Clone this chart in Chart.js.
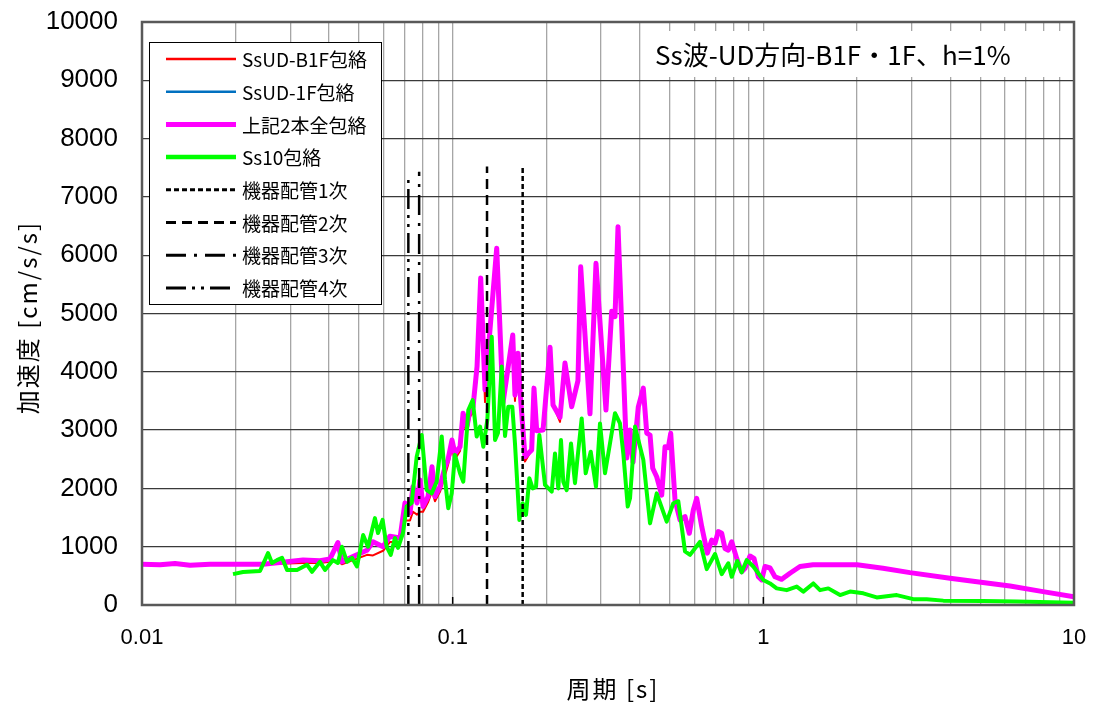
<!DOCTYPE html>
<html lang="ja">
<head>
<meta charset="utf-8">
<title>Ss波-UD方向-B1F・1F、h=1%</title>
<script src="https://cdn.jsdelivr.net/npm/chart.js@4.4.1/dist/chart.umd.min.js"></script>
<style>
  html, body { margin: 0; padding: 0; background: #fff; }
  #chart { display: block; }
</style>
</head>
<body>
<canvas id="chart" width="1096" height="707"></canvas>
<script>
// periods [s] and accelerations [cm/s/s]
const envPeriods = [
  0.01, 0.01143, 0.01277, 0.01427, 0.01655, 0.0199, 0.0245, 0.0293, 0.033, 0.0374,
  0.0403, 0.0427, 0.044, 0.0478, 0.053, 0.0554, 0.0597, 0.0628, 0.0677, 0.0702,
  0.0729, 0.0745, 0.0768, 0.0785, 0.0803, 0.0833, 0.0858, 0.0877, 0.091, 0.0945,
  0.0966, 0.0995, 0.1017, 0.1056, 0.108, 0.1112, 0.1137, 0.1163, 0.1198, 0.1231,
  0.1271, 0.1386, 0.1452, 0.1561, 0.1587, 0.1623, 0.1647, 0.1709, 0.1796, 0.1827,
  0.1864, 0.1954, 0.2058, 0.2104, 0.2216, 0.2299, 0.2416, 0.2531, 0.2583, 0.2767,
  0.2893, 0.3115, 0.325, 0.3331, 0.3406, 0.3633, 0.3723, 0.3807, 0.3959, 0.4108,
  0.4214, 0.4318, 0.4405, 0.4537, 0.4709, 0.4826, 0.4945, 0.5033, 0.5197, 0.5392,
  0.5596, 0.5778, 0.5952, 0.6104, 0.6334, 0.6602, 0.6822, 0.699, 0.7161, 0.7345,
  0.7526, 0.7713, 0.7909, 0.8209, 0.8519, 0.873, 0.9059, 0.9332, 0.9634, 0.9879,
  1.012, 1.051, 1.09, 1.146, 1.218, 1.312, 1.445, 2.003, 2.427, 2.966,
  3.989, 4.872, 6.223, 7.947, 10
];

// 上記2本全包絡
const envAccel = [
  700, 690, 710, 680, 700, 700, 700, 740, 770, 760,
  790, 1070, 740, 830, 940, 1085, 1000, 1180, 1150, 1750,
  1580, 2030, 1750, 2145, 1690, 1860, 2370, 1860, 2030, 2370,
  2490, 2830, 2600, 2715, 3290, 3060, 3345, 3400, 4090, 5610,
  3690, 6120, 3465, 4630, 3600, 4320, 3690, 2545, 2660, 3720,
  2990, 3000, 4420, 3430, 3220, 4150, 3400, 3850, 5800, 3280,
  5860, 3345, 5040, 4945, 6490, 2520, 3000, 2450, 3400, 3720,
  2950, 2915, 2345, 2200, 1885, 2715, 2700, 2945, 1800, 1460,
  1515, 1230, 1630, 1830, 1345, 890, 1115, 1060, 1260, 1230,
  970, 940, 1085, 800, 570, 630, 840, 800, 485, 430,
  660, 635, 485, 440, 545, 660, 690, 690, 630, 555,
  460, 400, 325, 230, 140
];

// SsUD-B1F包絡 (same periods as the envelope)
const b1fAccel = [
  700, 690, 710, 680, 700, 700, 700, 710, 720, 720,
  740, 760, 700, 770, 860, 850, 930, 1080, 1080, 1450,
  1450, 1600, 1550, 1600, 1600, 1760, 1950, 1780, 1940, 2220,
  2400, 2680, 2500, 2640, 3100, 2980, 3230, 3300, 3950, 5500,
  3480, 6120, 3465, 4630, 3500, 4320, 3690, 2460, 2660, 3720,
  2990, 3000, 4420, 3430, 3140, 4150, 3400, 3850, 5800, 3280,
  5860, 3345, 5040, 4945, 6490, 2520, 3000, 2450, 3400, 3720,
  2950, 2915, 2345, 2200, 1885, 2715, 2700, 2945, 1800, 1460,
  1515, 1230, 1630, 1830, 1345, 890, 1115, 1060, 1260, 1230,
  970, 940, 1085, 800, 570, 630, 840, 800, 485, 430,
  660, 635, 485, 440, 545, 660, 690, 690, 630, 555,
  460, 400, 325, 230, 140
];

// SsUD-1F包絡 lies under the envelope everywhere it shows
const oneFAccel = envAccel;

const ss10Periods = [
  0.01963, 0.02114, 0.02398, 0.02545, 0.02621, 0.0272, 0.02823, 0.0293, 0.03155, 0.03398,
  0.03526, 0.0374, 0.03882, 0.04119, 0.0427, 0.044, 0.0457, 0.0474, 0.0492, 0.0515,
  0.0534, 0.0562, 0.0575, 0.0595, 0.0613, 0.0632, 0.0652, 0.0667, 0.0692, 0.0711,
  0.0738, 0.0766, 0.0795, 0.0825, 0.0856, 0.0888, 0.0922, 0.0945, 0.0968, 0.0993,
  0.1017, 0.1056, 0.1082, 0.1123, 0.116, 0.1195, 0.1225, 0.1255, 0.1293, 0.1336,
  0.1369, 0.1399, 0.1438, 0.1474, 0.151, 0.1556, 0.1587, 0.1639, 0.1681, 0.1722,
  0.1765, 0.181, 0.1855, 0.1901, 0.1983, 0.2084, 0.2135, 0.2188, 0.2232, 0.227,
  0.2328, 0.2404, 0.2476, 0.2519, 0.2602, 0.268, 0.2782, 0.2893, 0.298, 0.3093,
  0.3209, 0.3331, 0.3456, 0.3542, 0.366, 0.3723, 0.3864, 0.3959, 0.4108, 0.4318,
  0.4537, 0.4886, 0.5131, 0.5325, 0.5596, 0.5808, 0.6255, 0.6573, 0.699, 0.7345,
  0.7713, 0.7909, 0.8245, 0.8519, 0.8841, 0.9284, 1.0, 1.051, 1.104, 1.189,
  1.281, 1.345, 1.448, 1.522, 1.619, 1.766, 1.901, 2.098, 2.317, 2.688,
  3.039, 3.356, 3.796, 5.094, 6.539, 10
];

const ss10Accel = [
  530, 565, 583, 890, 720, 770, 810, 600, 600, 690,
  570, 740, 600, 770, 720, 1000, 740, 810, 660, 1200,
  1000, 1490, 1235, 1460, 1000, 860, 1150, 980, 1235, 1690,
  1750, 2545, 2915, 1970, 1915, 2115, 2890, 2145, 1660, 1915,
  2575, 2260, 2115, 3345, 3515, 2890, 3060, 2715, 3175, 4600,
  2830, 2950, 4090, 2900, 3400, 3400, 2770, 1460, 1745, 1545,
  2175, 2000, 2030, 2915, 2060, 1945, 2600, 2000, 2830, 2115,
  1970, 2770, 2090, 2490, 3200, 2260, 2630, 2030, 3115, 2260,
  2770, 3290, 3115, 2600, 1690, 1830, 3060, 2830, 2490, 1400,
  1915, 1430, 1745, 1780, 920, 860, 1085, 615, 875, 530,
  715, 485, 755, 560, 770, 660, 430, 370, 285, 255,
  315, 230, 370, 255, 285, 170, 230, 200, 130, 170,
  100, 100, 75, 70, 60, 40
];

// 機器配管 1次..4次 natural periods and the height of each marker line
const pipeLabels = ["機器配管1次", "機器配管2次", "機器配管3次", "機器配管4次"];
const pipePeriods = [0.168, 0.129, 0.078, 0.072];
const pipeTops = [7520, 7520, 7430, 7350];
const pipeDashes = [[5, 3], [10, 6], [20, 8, 3, 8], [20, 6, 3, 6, 3, 6]];

const xTickLabels = ["0.01", "0.1", "1", "10"];
const titleText = "Ss波-UD方向-B1F・1F、h=1%";
const xTitle = "周期 [s]";
const yTitle = "加速度 [cm/s/s]";

const CJK = "'Noto Sans CJK JP', 'Noto Sans', sans-serif";

function toPoints(xs, ys) {
  return xs.map((x, i) => ({ x, y: ys[i] }));
}

const datasets = [
  { label: "SsUD-B1F包絡", data: toPoints(envPeriods, b1fAccel), borderColor: "#ff0000", borderWidth: 2, order: 4 },
  { label: "SsUD-1F包絡", data: toPoints(envPeriods, oneFAccel), borderColor: "#0070c0", borderWidth: 2, order: 3 },
  { label: "上記2本全包絡", data: toPoints(envPeriods, envAccel), borderColor: "#ff00ff", borderWidth: 5, order: 2 },
  { label: "Ss10包絡", data: toPoints(ss10Periods, ss10Accel), borderColor: "#00ff00", borderWidth: 4, order: 1 }
];

pipeLabels.forEach((label, i) => {
  datasets.push({
    label,
    data: [{ x: pipePeriods[i], y: 0 }, { x: pipePeriods[i], y: pipeTops[i] }],
    borderColor: "#000000",
    borderWidth: 2.5,
    borderDash: pipeDashes[i],
    borderCapStyle: "butt",
    order: 0
  });
});

datasets.forEach(ds => {
  ds.pointRadius = 0;
  ds.fill = false;
  ds.tension = 0;
  ds.borderJoinStyle = "round";
});

const decor = {
  id: "decor",
  afterDraw(chart) {
    const { ctx, chartArea: a, scales } = chart;
    ctx.save();

    // short inward ticks at the decades
    ctx.strokeStyle = "#000";
    ctx.lineWidth = 1.5;
    xTickLabels.forEach(t => {
      const x = scales.x.getPixelForValue(Number(t));
      ctx.beginPath();
      ctx.moveTo(x, a.bottom);
      ctx.lineTo(x, a.bottom - 8);
      ctx.stroke();
    });

    // plot frame
    ctx.strokeStyle = "#595959";
    ctx.lineWidth = 2.5;
    ctx.strokeRect(a.left, a.top, a.right - a.left, a.bottom - a.top);

    // case label top right
    ctx.fillStyle = "#fff";
    ctx.fillRect(645, 31, a.right - 647, 46);
    ctx.fillStyle = "#000";
    ctx.font = "26px " + CJK;
    ctx.textBaseline = "middle";
    ctx.textAlign = "left";
    ctx.fillText(titleText, 655, 55);

    // legend box
    const lx = 149, ly = 42, lw = 232, lh = 262;
    ctx.fillStyle = "#fff";
    ctx.fillRect(lx, ly, lw, lh);
    ctx.strokeStyle = "#000";
    ctx.lineWidth = 1;
    ctx.strokeRect(lx + 0.5, ly + 0.5, lw, lh);
    ctx.font = "19px " + CJK;
    chart.data.datasets.forEach((ds, i) => {
      const y = 59 + i * 32.7;
      ctx.save();
      ctx.strokeStyle = ds.borderColor;
      ctx.lineWidth = Math.min(ds.borderWidth + 0.5, 5);
      ctx.setLineDash(ds.borderDash || []);
      ctx.lineCap = "butt";
      ctx.beginPath();
      ctx.moveTo(166, y);
      ctx.lineTo(236, y);
      ctx.stroke();
      ctx.restore();
      ctx.fillStyle = "#000";
      ctx.fillText(ds.label, 242, y + 1);
    });

    // axis titles
    ctx.font = "24px " + CJK;
    ctx.textAlign = "center";
    ctx.letterSpacing = "2px";
    ctx.fillText(xTitle, (a.left + a.right) / 2 + 5, 689);
    ctx.translate(28, (a.top + a.bottom) / 2 + 4);
    ctx.rotate(-Math.PI / 2);
    ctx.fillText(yTitle, 0, 0);

    ctx.restore();
  }
};

new Chart(document.getElementById("chart"), {
  type: "line",
  data: { datasets },
  options: {
    responsive: false,
    devicePixelRatio: 1,
    animation: false,
    layout: { padding: { left: 0, right: 22, top: 22, bottom: 0 } },
    plugins: {
      legend: { display: false },
      tooltip: { enabled: false }
    },
    scales: {
      x: {
        type: "logarithmic",
        min: 0.01,
        max: 10,
        afterBuildTicks(scale) {
          const ticks = [];
          for (let e = -2; e <= 0; e++) {
            for (let m = 1; m <= 9; m++) ticks.push({ value: m * Math.pow(10, e) });
          }
          ticks.push({ value: 10 });
          scale.ticks = ticks;
        },
        afterFit(scale) {
          scale.height = 102;
          scale.paddingLeft = 0;
          scale.paddingRight = 0;
        },
        border: { display: false },
        grid: { color: "#a6a6a6", lineWidth: 1.3, drawTicks: false },
        ticks: {
          autoSkip: false,
          maxRotation: 0,
          padding: 20,
          color: "#000",
          font: { family: "'Liberation Sans', Arial, sans-serif", size: 22 },
          callback(value) {
            const hit = xTickLabels.find(t => Math.abs(Number(t) / value - 1) < 1e-6);
            return hit || "";
          }
        }
      },
      y: {
        type: "linear",
        min: 0,
        max: 10000,
        afterFit(scale) {
          scale.width = 142;
          scale.paddingTop = 0;
          scale.paddingBottom = 0;
        },
        border: { display: false },
        grid: { color: "#3a3a3a", lineWidth: 1.3, drawTicks: false },
        ticks: {
          stepSize: 1000,
          padding: 24,
          color: "#000",
          font: { family: "'Liberation Sans', Arial, sans-serif", size: 26 },
          callback(value) { return String(value); }
        }
      }
    }
  },
  plugins: [decor]
});
</script>
</body>
</html>
